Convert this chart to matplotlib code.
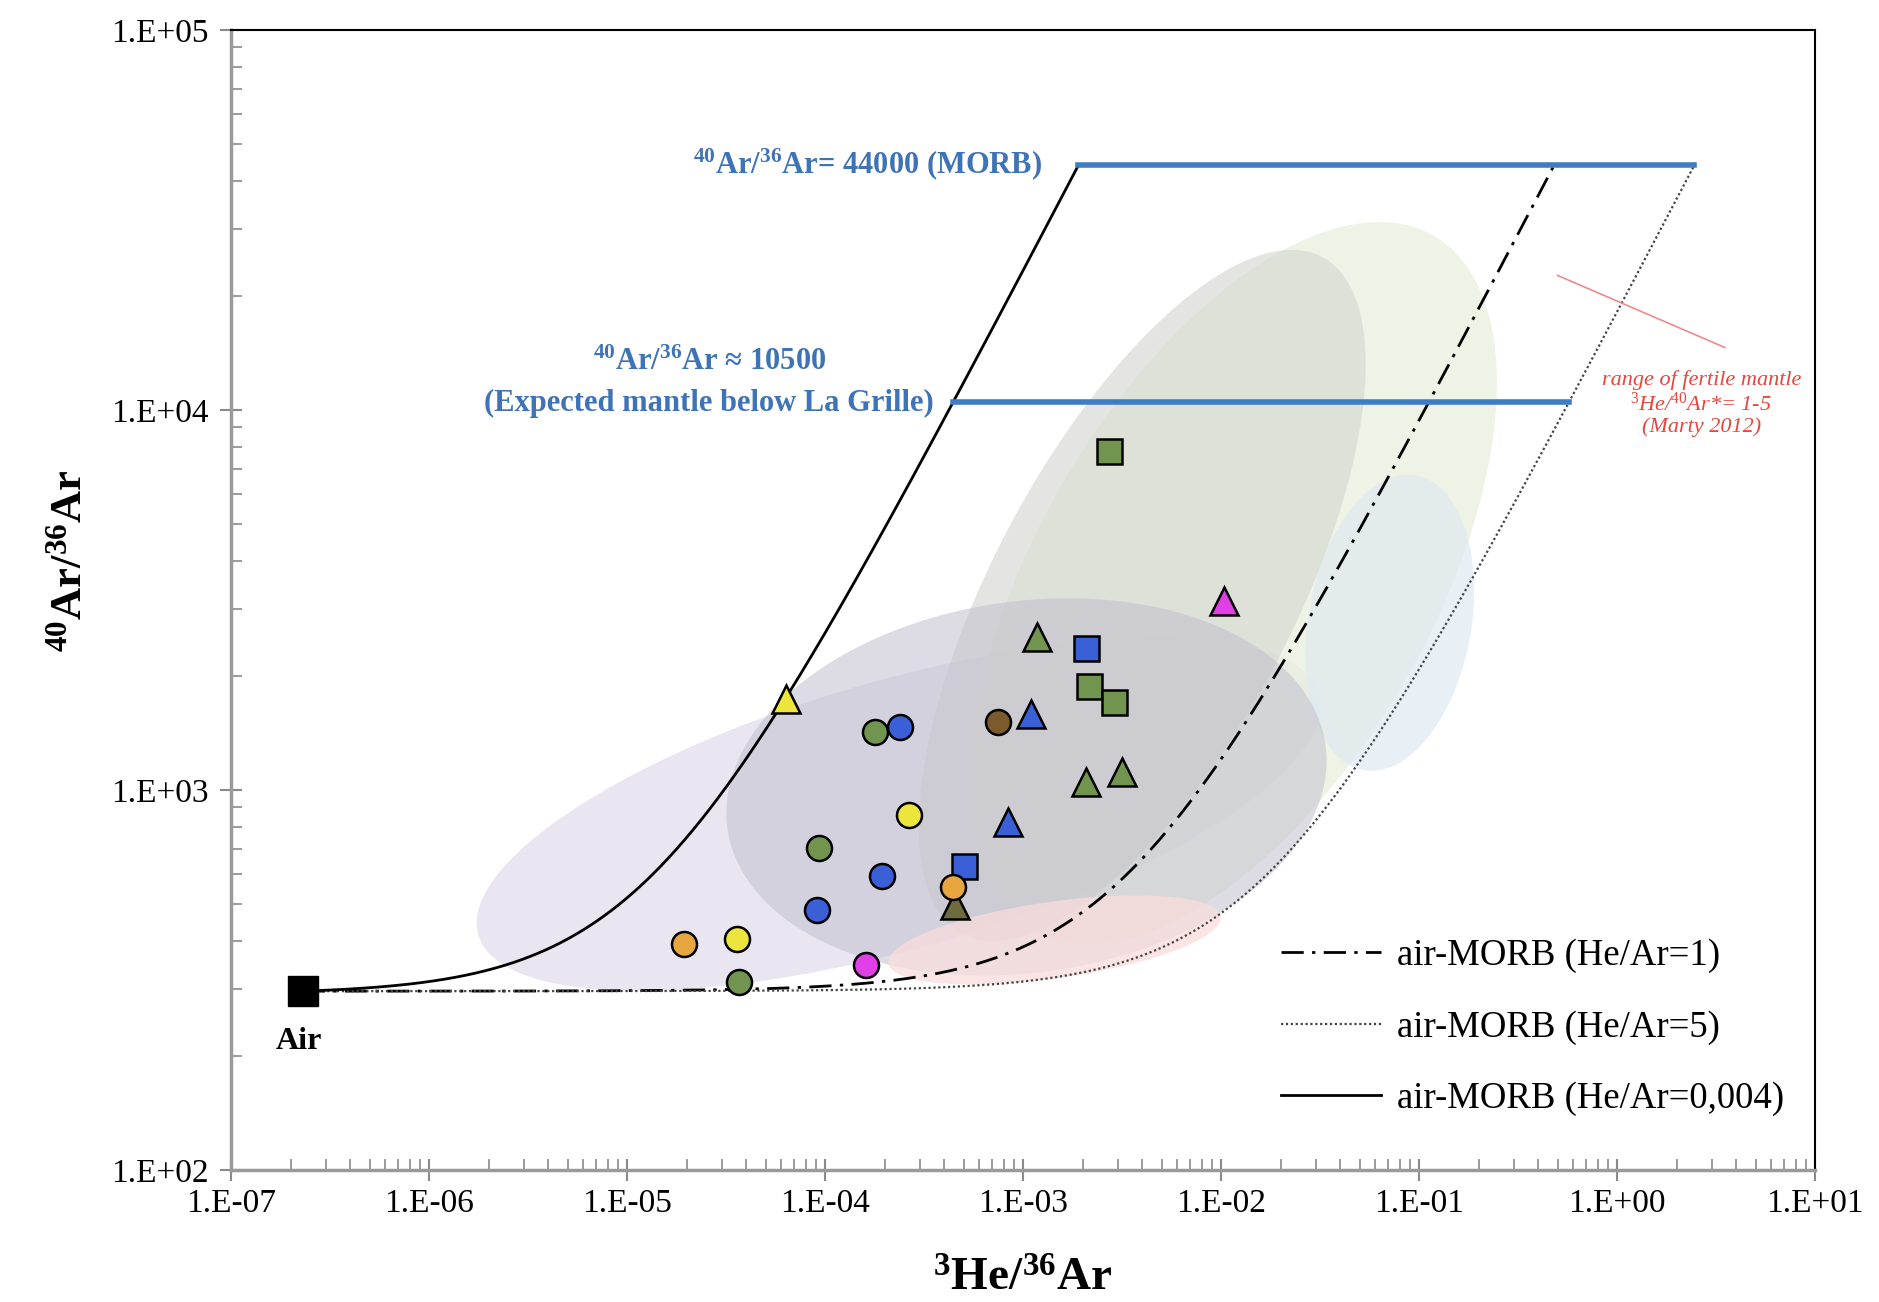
import numpy as np
import matplotlib
matplotlib.use("Agg")
import matplotlib.pyplot as plt
from matplotlib.ticker import LogLocator, FuncFormatter, NullFormatter
from matplotlib.lines import Line2D

plt.rcParams['font.family'] = ['Liberation Serif', 'DejaVu Serif']
plt.rcParams['mathtext.fontset'] = 'custom'
plt.rcParams['mathtext.rm'] = 'Liberation Serif'
plt.rcParams['mathtext.it'] = 'Liberation Serif:italic'
plt.rcParams['mathtext.bf'] = 'Liberation Serif:bold'

# end-members (3He/36Ar, 40Ar/36Ar)
air_he, air_ar = 2.3e-7, 295.5
morb_ar = 44000.0
morb_he_004 = 1.9e-3     # He/Ar = 0.004
morb_he_1 = 0.48         # He/Ar = 1
morb_he_5 = 2.45         # He/Ar = 5
mantle_ar = 10500.0
mantle_he_range = [4.4e-4, 0.57]
morb_he_range = [1.9e-3, 2.45]

# samples: circles
circ_green_x = [9.35e-5, 1.78e-4, 3.68e-5]
circ_green_y = [705, 1422, 313]
circ_blue_x = [9.1e-5, 1.93e-4, 2.38e-4]
circ_blue_y = [483, 592, 1466]
circ_yellow_x = [3.58e-5, 2.66e-4]
circ_yellow_y = [406, 857]
circ_orange_x = [1.94e-5, 4.40e-4]
circ_orange_y = [394, 554]
circ_magenta_x = [1.61e-4]
circ_magenta_y = [346]
circ_brown_x = [7.46e-4]
circ_brown_y = [1510]

# samples: triangles
tri_yellow_x = [6.34e-5]
tri_yellow_y = [1733]
tri_olive_x = [4.52e-4]
tri_olive_y = [497]
tri_blue_x = [8.34e-4, 1.10e-3]
tri_blue_y = [826, 1589]
tri_green_x = [1.17e-3, 2.07e-3, 3.14e-3]
tri_green_y = [2524, 1050, 1112]
tri_magenta_x = [1.04e-2]
tri_magenta_y = [3140]

# samples: squares
sq_green_x = [2.73e-3, 2.15e-3, 2.88e-3]
sq_green_y = [7785, 1875, 1706]
sq_blue_x = [5.05e-4, 2.07e-3]
sq_blue_y = [631, 2366]

# reference pixel scale of one decade (used only to shape the fields)
PX_X, PX_Y = 165.25, 317.3


def field(ax, cx, cy, a, b, angle, color, alpha):
    """soft elliptical field drawn in log space"""
    t = np.linspace(0, 2 * np.pi, 200)
    th = np.radians(angle)
    u = a * np.cos(t) * np.cos(th) - b * np.sin(t) * np.sin(th)
    v = a * np.cos(t) * np.sin(th) + b * np.sin(t) * np.cos(th)
    xs = 10 ** (np.log10(cx) + u / PX_X)
    ys = 10 ** (np.log10(cy) + v / PX_Y)
    ax.fill(xs, ys, color=color, alpha=alpha, lw=0, zorder=1)


def mixing(he_end, ar_end):
    # fraction of the MORB end-member (36Ar based), spaced for log axes
    f = np.concatenate([[0.0], np.geomspace(1e-9, 1, 1500)])
    return f * he_end + (1 - f) * air_he, f * ar_end + (1 - f) * air_ar


fig = plt.figure(figsize=(18.79, 13.02), dpi=100)
ax = fig.add_axes([0.123, 0.1014, 0.843, 0.8756])
ax.set_xscale('log')
ax.set_yscale('log')
ax.set_xlim(1e-7, 1e1)
ax.set_ylim(1e2, 1e5)

# fields
field(ax, 2.35e-4, 863, 365, 112, 16, '#e6e2ef', 0.85)
field(ax, 0.0115, 3500, 335, 165, 60, '#eaf0de', 0.75)
field(ax, 0.0711, 2754, 125, 68, 80, '#dfe9f1', 0.7)
field(ax, 4.0e-3, 3250, 320, 125, 62, '#d2d5cf', 0.6)
field(ax, 1.04e-3, 1019, 252, 155, 8, '#c2c0ce', 0.55)
field(ax, 1.44e-3, 403, 140, 32, 8, '#f9dcdc', 0.75)

# mixing curves
x1, y1 = mixing(morb_he_1, morb_ar)
x5, y5 = mixing(morb_he_5, morb_ar)
x0, y0 = mixing(morb_he_004, morb_ar)
dashdot = (0, (8, 3, 1.2, 3))
dotted = (0, (1, 1.2))
ax.plot(x1, y1, color='black', lw=2, ls=dashdot, zorder=3)
ax.plot(x5, y5, color='#444444', lw=1.6, ls=dotted, zorder=3)
ax.plot(x0, y0, color='black', lw=2, zorder=3)

# reference ratios
blue = '#3f7cc4'
ax.plot(morb_he_range, [morb_ar, morb_ar], color=blue, lw=4, zorder=4)
ax.plot(mantle_he_range, [mantle_ar, mantle_ar], color=blue, lw=4, zorder=4)

# air
ax.plot([air_he], [air_ar], marker='s', ms=22, color='black', ls='none', zorder=6)
ax.text(2.21e-7, 218, 'Air', fontsize=23, fontweight='bold', ha='center', va='center')

# samples
mk = dict(ls='none', mec='black', mew=1.8, zorder=5)
green, blu, yellow, orange = '#71954f', '#3b5fd6', '#ece63c', '#e8a640'
magenta, brown, olive = '#e03fe6', '#7b5a2e', '#6e6b3e'
ms_c, ms_t, ms_s = 18, 20, 18
ax.plot(sq_green_x, sq_green_y, marker='s', ms=ms_s, mfc=green, **mk)
ax.plot(sq_blue_x, sq_blue_y, marker='s', ms=ms_s, mfc=blu, **mk)
ax.plot(tri_yellow_x, tri_yellow_y, marker='^', ms=ms_t, mfc=yellow, **mk)
ax.plot(tri_olive_x, tri_olive_y, marker='^', ms=ms_t, mfc=olive, **mk)
ax.plot(tri_blue_x, tri_blue_y, marker='^', ms=ms_t, mfc=blu, **mk)
ax.plot(tri_green_x, tri_green_y, marker='^', ms=ms_t, mfc=green, **mk)
ax.plot(tri_magenta_x, tri_magenta_y, marker='^', ms=ms_t, mfc=magenta, **mk)
ax.plot(circ_green_x, circ_green_y, marker='o', ms=ms_c, mfc=green, **mk)
ax.plot(circ_blue_x, circ_blue_y, marker='o', ms=ms_c, mfc=blu, **mk)
ax.plot(circ_yellow_x, circ_yellow_y, marker='o', ms=ms_c, mfc=yellow, **mk)
ax.plot(circ_orange_x, circ_orange_y, marker='o', ms=ms_c, mfc=orange, **mk)
ax.plot(circ_magenta_x, circ_magenta_y, marker='o', ms=ms_c, mfc=magenta, **mk)
ax.plot(circ_brown_x, circ_brown_y, marker='o', ms=ms_c, mfc=brown, **mk)

# annotations
txt_blue = '#3f73b8'
ax.text(1.25e-3, 44400, r'$\mathbf{^{40}}$Ar/$\mathbf{^{36}}$Ar= 44000 (MORB)',
        color=txt_blue, fontsize=22, fontweight='bold', ha='right', va='center')
ax.text(2.6e-5, 13300, r'$\mathbf{^{40}}$Ar/$\mathbf{^{36}}$Ar ≈ 10500',
        color=txt_blue, fontsize=22, fontweight='bold', ha='center', va='center')
ax.text(2.6e-5, 10400, '(Expected mantle below La Grille)',
        color=txt_blue, fontsize=22, fontweight='bold', ha='center', va='center')

red = '#e8453c'
ax.plot([0.5, 3.5], [22600, 14600], color='#f08a8a', lw=1.2, zorder=3)
ax.text(2.66, 10400, 'range of fertile mantle\n'
        r'$\mathit{^{3}}$He/$\mathit{^{40}}$Ar*= 1-5' '\n(Marty 2012)',
        color=red, fontsize=16, fontstyle='italic', ha='center', va='center',
        linespacing=1.1)

# legend
handles = [Line2D([], [], color='black', lw=2, ls=dashdot),
           Line2D([], [], color='#444444', lw=1.6, ls=dotted),
           Line2D([], [], color='black', lw=2)]
labels = ['air-MORB (He/Ar=1)', 'air-MORB (He/Ar=5)', 'air-MORB (He/Ar=0,004)']
ax.legend(handles, labels, loc='upper left', bbox_to_anchor=(0.663, 0.203),
          frameon=False, fontsize=26.5, labelspacing=1.0, handlelength=2.7,
          handletextpad=0.45, borderpad=0, borderaxespad=0)

# axes styling
fmt = FuncFormatter(lambda v, p: '1.E%+03d' % int(round(np.log10(v))))
for axis in (ax.xaxis, ax.yaxis):
    axis.set_major_locator(LogLocator(base=10, numticks=20))
    axis.set_minor_locator(LogLocator(base=10, subs=np.arange(2, 10), numticks=100))
    axis.set_major_formatter(fmt)
    axis.set_minor_formatter(NullFormatter())

ax.tick_params(which='major', direction='inout', length=16, width=1.5,
               color='#8a8a8a', labelsize=24, pad=5)
ax.tick_params(which='minor', direction='in', length=8, width=1.2, color='#8a8a8a')
ax.tick_params(axis='y', which='major', pad=8)
for s in ('left', 'bottom'):
    ax.spines[s].set_color('#9a9a9a')
    ax.spines[s].set_linewidth(2.5)
for s in ('top', 'right'):
    ax.spines[s].set_color('black')
    ax.spines[s].set_linewidth(1.5)

ax.set_xlabel(r'$\mathbf{^{3}}$He/$\mathbf{^{36}}$Ar', fontsize=34, fontweight='bold')
ax.set_ylabel(r'$\mathbf{^{40}}$Ar/$\mathbf{^{36}}$Ar', fontsize=32, fontweight='bold')
ax.xaxis.set_label_coords(0.5, -0.078)
ax.yaxis.set_label_coords(-0.089, 0.534)

fig.savefig('out.png', dpi=100)
